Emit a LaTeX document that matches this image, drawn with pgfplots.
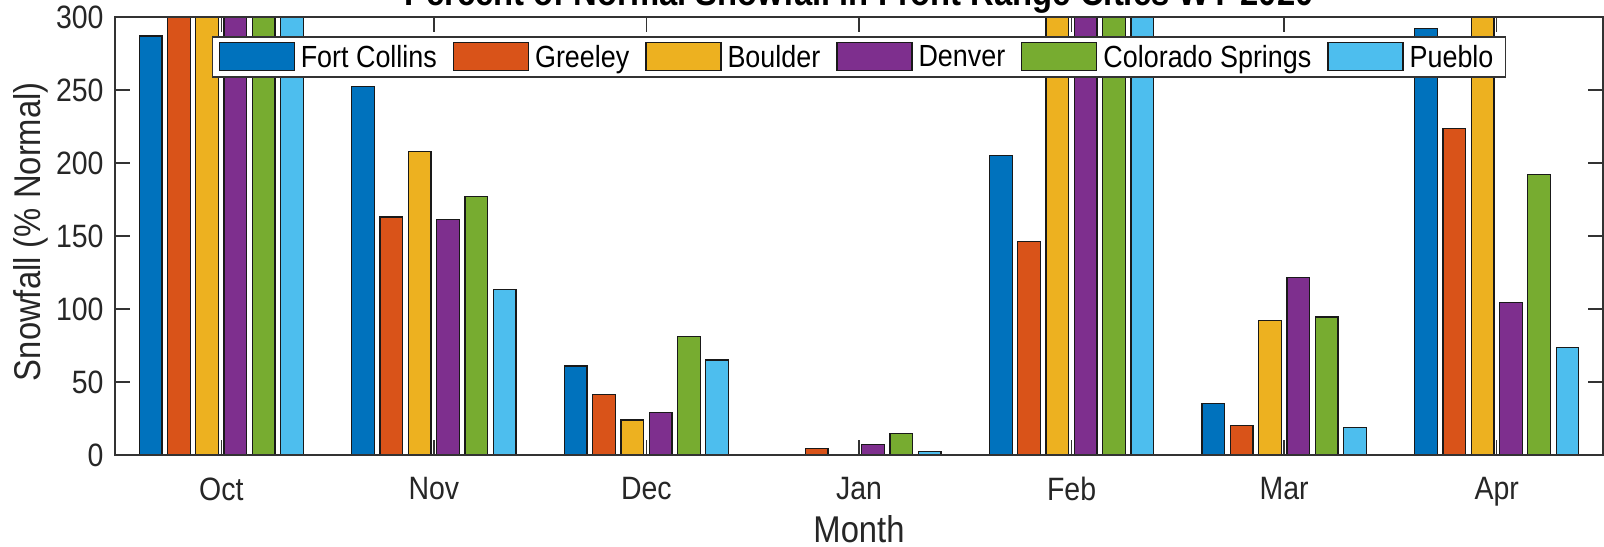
\documentclass[border=0pt]{standalone}
\usepackage{fontspec}
\setmainfont[FakeStretch=0.88]{Liberation Sans}
\usepackage{pgfplots}
\pgfplotsset{compat=1.18}
\definecolor{c1}{rgb}{0,0.447,0.741}
\definecolor{c2}{rgb}{0.850,0.325,0.098}
\definecolor{c3}{rgb}{0.929,0.694,0.125}
\definecolor{c4}{rgb}{0.494,0.184,0.556}
\definecolor{c5}{rgb}{0.466,0.674,0.188}
\definecolor{c6}{rgb}{0.301,0.745,0.933}
\begin{document}
\fontsize{9.2}{11}\selectfont
\begin{tikzpicture}
\begin{axis}[name=ax, scale only axis, width=148.8mm, height=43.8mm,
 ybar=0.56mm, bar width=2.27mm,
 xmin=-0.5, xmax=6.5, ymin=0, ymax=300,
 xtick={0,...,6}, xticklabels={Oct,Nov,Dec,Jan,Feb,Mar,Apr},
 ytick={0,50,...,300},
 tick align=inside, xtick pos=both, ytick pos=both,
 major tick length=1.5mm,
 axis on top,
 axis line style={black!80, line width=0.4pt},
 every tick/.style={black!80, line width=0.4pt},
 /pgf/number format/assume math mode=true,
 ticklabel style={font=\fontsize{9.2}{11}\selectfont, text=black!85},
 xticklabel style={yshift=-1.1mm},
 xlabel={Month}, ylabel={Snowfall (\% Normal)},
 label style={font=\fontsize{10.6}{12}\selectfont, text=black!85},
 xlabel style={at={(axis description cs:0.5,-0.169)}, anchor=center},
 ylabel style={at={(axis description cs:-0.0565,0.51)}, anchor=center},
 every axis title/.style={at={(0.5,1)}, anchor=base, yshift=1.1mm, font=\bfseries\fontsize{10.6}{12}\selectfont},
 title={Percent of Normal Snowfall in Front Range Cities WY 2020},
 legend columns=6,
 legend style={at={(0.5,0.956)}, anchor=north, draw=black!80, line width=0.4pt,
   inner xsep=0.6mm, inner ysep=0.5mm, font=\fontsize{8.7}{10}\selectfont,
   nodes={inner xsep=0.6mm, inner ysep=0mm},
   /tikz/every even column/.append style={column sep=1mm}},
 legend image code/.code={\draw[#1] (0mm,-1.2mm) rectangle (7.5mm,1.6mm);},
 every axis plot/.append style={draw=black!90, line width=0.35pt},
]
\addplot[fill=c1] coordinates {(0,287) (1,252.5) (2,61) (3,0) (4,205) (5,35.5) (6,292)};
\addplot[fill=c2] coordinates {(0,400) (1,163) (2,41.5) (3,4.5) (4,146) (5,20) (6,223.5)};
\addplot[fill=c3] coordinates {(0,400) (1,208) (2,24) (3,0) (4,400) (5,92) (6,400)};
\addplot[fill=c4] coordinates {(0,400) (1,161.5) (2,29) (3,7) (4,400) (5,121.5) (6,104.5)};
\addplot[fill=c5] coordinates {(0,400) (1,177) (2,81) (3,14.5) (4,400) (5,94.5) (6,192)};
\addplot[fill=c6] coordinates {(0,400) (1,113.5) (2,65) (3,2.5) (4,400) (5,19) (6,73.5)};
\legend{Fort Collins,Greeley,Boulder,Denver,Colorado Springs,Pueblo}
\end{axis}
\pgfresetboundingbox
\path ([shift={(-11.5mm,-9.1mm)}]ax.south west) rectangle ([shift={(0.1mm,1.7mm)}]ax.north east);
\end{tikzpicture}
\end{document}
